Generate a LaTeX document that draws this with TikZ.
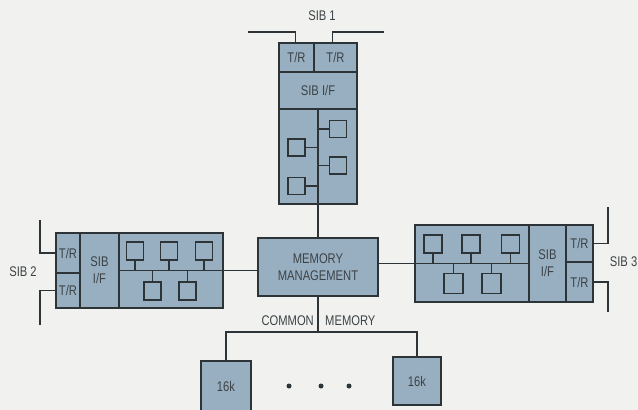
\documentclass[tikz,border=0pt]{standalone}
\usepackage{fontspec}
\setmainfont{Liberation Sans}[FakeStretch=0.8]
\usepackage{tikz}
\usetikzlibrary{positioning}
\definecolor{blokMavi}{HTML}{97AFC0}
\definecolor{cizgiKoyu}{HTML}{2C3438}
\definecolor{yaziGri}{HTML}{3C4246}
\definecolor{zeminAcik}{HTML}{F1F2EF}

\tikzset{
  blok/.style={draw=cizgiKoyu,fill=blokMavi,line width=1.6pt,inner sep=0pt,outer sep=0pt,text=yaziGri,align=center},
  kare/.style={draw=cizgiKoyu,line width=1.3pt,minimum size=17pt,inner sep=0pt,outer sep=0pt},
  etiket/.style={text=yaziGri,inner sep=0pt},
  hat/.style={cizgiKoyu,line width=1.4pt},
}

\begin{document}
\begin{tikzpicture}[x=1pt,y=-1pt,font=\fontsize{14}{17}\selectfont]
\useasboundingbox (0,0) rectangle (638,410);
\fill[zeminAcik] (0,0) rectangle (638,410);

% SIB 1
\node[blok,minimum width=78pt,minimum height=37pt] (if1) at (318,90.5) {SIB I/F};
\node[blok,minimum width=35pt,minimum height=29pt,anchor=south west] (tr1a) at (if1.north west) {T/R};
\node[blok,minimum width=43pt,minimum height=29pt,anchor=south east] (tr1b) at (if1.north east) {T/R};
\node[blok,minimum width=78pt,minimum height=95pt,below=0pt of if1] (pe1) {};
\foreach \i/\x/\y in {a/296.5/147.5,b/296.5/186,c/338/129,d/338/165.5}
  \node[kare] (k1\i) at (\x,\y) {};

% SIB 2
\node[blok,minimum width=39pt,minimum height=75pt] (if2) at (99.5,270.5) {SIB\\I/F};
\node[blok,minimum width=24pt,minimum height=40pt,anchor=north east] (tr2a) at (if2.north west) {T/R};
\node[blok,minimum width=24pt,minimum height=35pt,anchor=south east] (tr2b) at (if2.south west) {T/R};
\node[blok,minimum width=104pt,minimum height=75pt,right=0pt of if2] (pe2) {};

% SIB 3
\node[blok,minimum width=37pt,minimum height=77pt] (if3) at (547.5,263.5) {SIB\\I/F};
\node[blok,minimum width=114pt,minimum height=77pt,left=0pt of if3] (pe3) {};
\node[blok,minimum width=27pt,minimum height=37pt,anchor=north west] (tr3a) at (if3.north east) {T/R};
\node[blok,minimum width=27pt,minimum height=40pt,anchor=south west] (tr3b) at (if3.south east) {T/R};

% bellek yonetimi
\node[blok,minimum width=120pt,minimum height=58pt] (mm) at (318,267) {MEMORY\\MANAGEMENT};
\draw[hat] (pe1.north) -- (mm.north);
\draw[hat] (pe2.west) -- (pe2.west -| mm.west);
\draw[hat] (pe3.east) -- (pe3.east -| mm.east);

% islemciler
\foreach \i in {a,b}
  \draw[hat] (k1\i.east) -- (k1\i.east -| pe1.north);
\foreach \i in {c,d}
  \draw[hat] (k1\i.west) -- (k1\i.west -| pe1.north);
\foreach \i/\x in {a/135,b/169,c/204}{
  \node[kare,minimum height=18pt] (k2\i) at (\x,251) {};
  \draw[hat] (k2\i.south) -- (k2\i.south |- pe2.west);
}
\foreach \i/\x in {d/152.5,e/187.5}{
  \node[kare,minimum height=18pt] (k2\i) at (\x,291) {};
  \draw[hat] (k2\i.north) -- (k2\i.north |- pe2.west);
}
\foreach \i/\x in {a/433,b/471,c/510.5}{
  \node[kare,minimum size=18pt] (k3\i) at (\x,244) {};
  \draw[hat] (k3\i.south) -- (k3\i.south |- pe3.east);
}
\foreach \i/\x in {d/453.5,e/491.5}{
  \node[kare,minimum width=19pt,minimum height=20pt] (k3\i) at (\x,283.5) {};
  \draw[hat] (k3\i.north) -- (k3\i.north |- pe3.east);
}

% SIB hatlari
\coordinate (b1l) at (248,32);
\coordinate (b1r) at (384,32);
\coordinate (b2t) at (40,220);
\coordinate (b2b) at (40,325);
\coordinate (b3t) at (608,207);
\coordinate (b3b) at (608,312);
\draw[hat] ([xshift=-1pt]tr1a.north) |- (b1l);
\draw[hat] ([xshift=-3pt]tr1b.north) |- (b1r);
\draw[hat] (tr2a.west) -| (b2t);
\draw[hat] (tr2b.west) -| (b2b);
\draw[hat] (tr3a.east) -| (b3t);
\draw[hat] (tr3b.east) -| (b3b);
\node[etiket] (sib1) at (322,16) {SIB 1};
\node[etiket] (sib2) at (23,272) {SIB 2};
\node[etiket,anchor=east] (sib3) at (637.5,262) {SIB 3};

% ortak bellek
\node[blok,minimum size=50pt] (m1) at (226,386) {16k};
\node[blok,minimum size=48pt] (m2) at (417,381) {16k};
\coordinate (cm) at (318,332);
\draw[hat] (mm.south) -- (cm);
\draw[hat] (m1.north) |- (cm) -| (m2.north);
\node[etiket,anchor=east] (ortak) at (314,321) {COMMON};
\node[etiket,anchor=west] (bellek) at (325,321) {MEMORY};
\foreach \x in {289,321,349}
  \node[circle,fill=cizgiKoyu,inner sep=0pt,minimum size=5pt] (n\x) at (\x,386) {};
\end{tikzpicture}
\end{document}
